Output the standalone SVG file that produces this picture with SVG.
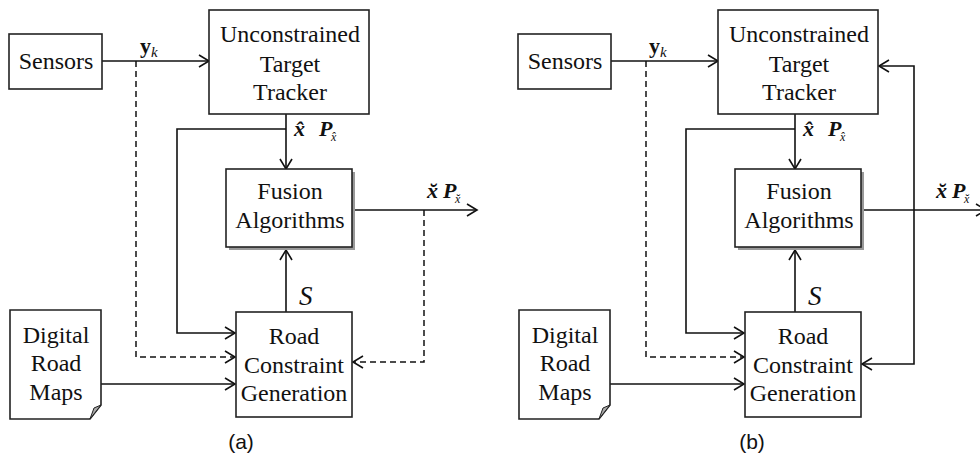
<svg xmlns="http://www.w3.org/2000/svg" width="980" height="457" viewBox="0 0 980 457">
<defs>
<style>
.box{fill:#fff;stroke:#222;stroke-width:1.6}
.shadow{fill:#999;stroke:none}
.ln{fill:none;stroke:#111;stroke-width:1.6}
.dash{fill:none;stroke:#111;stroke-width:1.5;stroke-dasharray:6,4}
.t{font-family:"Liberation Serif","Times New Roman",serif;font-size:24px;fill:#111;text-anchor:middle}
.m{font-family:"Liberation Serif","Times New Roman",serif;fill:#111}
.cap{font-family:"Liberation Sans",Arial,sans-serif;font-size:21px;fill:#111;text-anchor:middle}
</style>
<marker id="arr" markerUnits="userSpaceOnUse" markerWidth="14" markerHeight="16" refX="11" refY="7" orient="auto">
<path d="M1,1 L11,7 L1,13" fill="none" stroke="#111" stroke-width="1.6"/>
</marker>
</defs>

<!-- Panel (a) -->
<g id="panel-a">
<g id="a-connectors">
<path class="ln" d="M102,61 H209" marker-end="url(#arr)"/>
<path class="dash" d="M136,61 V357 H235" marker-end="url(#arr)"/>
<path class="ln" d="M286,114 V169" marker-end="url(#arr)"/>
<path class="ln" d="M286,129 H177 V333 H235" marker-end="url(#arr)"/>
<path class="ln" d="M352,210 H477" marker-end="url(#arr)"/>
<path class="dash" d="M424,210 V362 H353" marker-end="url(#arr)"/>
<path class="ln" d="M286,312 V250" marker-end="url(#arr)"/>
<path class="ln" d="M101,384 H235" marker-end="url(#arr)"/>
</g>
<g id="a-sensors">
<rect class="box" x="9" y="34" width="93" height="55"/>
<text class="t" x="56" y="69">Sensors</text>
</g>
<g id="a-tracker">
<rect class="box" x="209" y="10" width="160" height="104"/>
<text class="t" x="290" y="42">Unconstrained</text>
<text class="t" x="290" y="72">Target</text>
<text class="t" x="290" y="100">Tracker</text>
</g>
<g id="a-fusion">
<rect class="shadow" x="229" y="172" width="126" height="78"/>
<rect class="box" x="226" y="169" width="126" height="78"/>
<text class="t" x="290" y="199">Fusion</text>
<text class="t" x="290" y="228">Algorithms</text>
</g>
<g id="a-road">
<rect class="box" x="236" y="312" width="116" height="105"/>
<text class="t" x="294" y="344">Road</text>
<text class="t" x="294" y="373">Constraint</text>
<text class="t" x="294" y="401">Generation</text>
</g>
<g id="a-maps">
<path class="box" d="M10,310 H101 V405 L90,419 H10 Z"/>
<path d="M101,405 L94,408 L90,419 Z" fill="#aaa" stroke="#222" stroke-width="1"/>
<text class="t" x="56" y="343">Digital</text>
<text class="t" x="56" y="371">Road</text>
<text class="t" x="56" y="400">Maps</text>
</g>
<g id="a-labels">
<text class="m" x="140" y="53" font-size="22" font-weight="bold">y</text>
<text class="m" x="151" y="57" font-size="15" font-style="italic">k</text>
<text class="m" x="294" y="136" font-size="22" font-weight="bold" font-style="italic">x̂</text>
<text class="m" x="319" y="136" font-size="22" font-weight="bold" font-style="italic">P</text>
<text class="m" x="331" y="141" font-size="12" font-style="italic">x̂</text>
<text class="m" x="427" y="198" font-size="22" font-weight="bold" font-style="italic">x̆</text>
<text class="m" x="443" y="198" font-size="22" font-weight="bold" font-style="italic">P</text>
<text class="m" x="455" y="203" font-size="12" font-style="italic">x̆</text>
<text class="m" x="299" y="305" font-size="27" font-style="italic">S</text>
</g>
<text class="cap" x="241" y="449">(a)</text>
</g>

<!-- Panel (b) -->
<g id="panel-b" transform="translate(509,0)">
<g id="b-connectors">
<path class="ln" d="M102,61 H209" marker-end="url(#arr)"/>
<path class="dash" d="M137,61 V357 H235" marker-end="url(#arr)"/>
<path class="ln" d="M286,114 V169" marker-end="url(#arr)"/>
<path class="ln" d="M286,129 H177 V333 H235" marker-end="url(#arr)"/>
<path class="ln" d="M352,210 H477" marker-end="url(#arr)"/>
<path class="ln" d="M405,210 V66 H370" marker-end="url(#arr)"/>
<path class="ln" d="M405,210 V364 H353" marker-end="url(#arr)"/>
<path class="ln" d="M286,312 V250" marker-end="url(#arr)"/>
<path class="ln" d="M101,384 H235" marker-end="url(#arr)"/>
</g>
<g id="b-sensors">
<rect class="box" x="9" y="34" width="93" height="55"/>
<text class="t" x="56" y="69">Sensors</text>
</g>
<g id="b-tracker">
<rect class="box" x="209" y="10" width="160" height="104"/>
<text class="t" x="290" y="42">Unconstrained</text>
<text class="t" x="290" y="72">Target</text>
<text class="t" x="290" y="100">Tracker</text>
</g>
<g id="b-fusion">
<rect class="shadow" x="229" y="172" width="126" height="78"/>
<rect class="box" x="226" y="169" width="126" height="78"/>
<text class="t" x="290" y="199">Fusion</text>
<text class="t" x="290" y="228">Algorithms</text>
</g>
<g id="b-road">
<rect class="box" x="236" y="312" width="116" height="105"/>
<text class="t" x="294" y="344">Road</text>
<text class="t" x="294" y="373">Constraint</text>
<text class="t" x="294" y="401">Generation</text>
</g>
<g id="b-maps">
<path class="box" d="M10,310 H101 V405 L90,419 H10 Z"/>
<path d="M101,405 L94,408 L90,419 Z" fill="#aaa" stroke="#222" stroke-width="1"/>
<text class="t" x="56" y="343">Digital</text>
<text class="t" x="56" y="371">Road</text>
<text class="t" x="56" y="400">Maps</text>
</g>
<g id="b-labels">
<text class="m" x="140" y="53" font-size="22" font-weight="bold">y</text>
<text class="m" x="151" y="57" font-size="15" font-style="italic">k</text>
<text class="m" x="294" y="136" font-size="22" font-weight="bold" font-style="italic">x̂</text>
<text class="m" x="319" y="136" font-size="22" font-weight="bold" font-style="italic">P</text>
<text class="m" x="331" y="141" font-size="12" font-style="italic">x̂</text>
<text class="m" x="427" y="198" font-size="22" font-weight="bold" font-style="italic">x̆</text>
<text class="m" x="443" y="198" font-size="22" font-weight="bold" font-style="italic">P</text>
<text class="m" x="455" y="203" font-size="12" font-style="italic">x̆</text>
<text class="m" x="299" y="305" font-size="27" font-style="italic">S</text>
</g>
<text class="cap" x="243" y="449">(b)</text>
</g>
</svg>
